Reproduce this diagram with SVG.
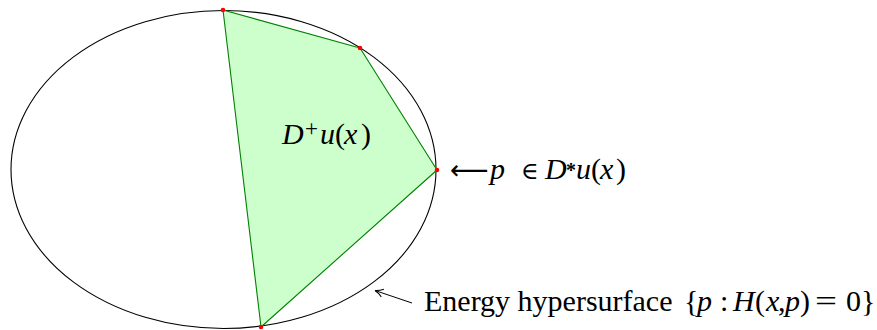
<svg xmlns="http://www.w3.org/2000/svg" width="877" height="330" viewBox="0 0 877 330">
<defs>
<style>
.t{font-family:"Liberation Serif","DejaVu Serif",serif;font-size:30px;fill:#000}
.i{font-style:italic}
.dot{fill:#ff0000}
</style>
<marker id="ah" viewBox="0 0 10 10" refX="9" refY="5" markerWidth="10" markerHeight="10" markerUnits="userSpaceOnUse" orient="auto">
<path d="M1,1 Q5,4 9,5 Q5,6 1,9" fill="none" stroke="#000" stroke-width="1"/>
</marker>
</defs>
<rect width="877" height="330" fill="#fff"/>
<g id="surface">
<ellipse cx="223.5" cy="169.5" rx="212.5" ry="159" fill="none" stroke="#000" stroke-width="1.1"/>
</g>
<g id="region">
<polygon points="223,10 360,48 437,170 261,327" fill="#ccffcc" stroke="#008000" stroke-width="1.1" stroke-linejoin="round"/>
<circle class="dot" cx="223" cy="10" r="2.3"/>
<circle class="dot" cx="360" cy="48" r="2.3"/>
<circle class="dot" cx="437" cy="170" r="2.3"/>
<circle class="dot" cx="261" cy="327" r="2.3"/>
<text class="t" y="144"><tspan class="i" x="282">D</tspan><tspan x="305" y="136" font-size="23">+</tspan><tspan class="i" x="320" y="144">u</tspan><tspan x="335">(</tspan><tspan class="i" x="344">x</tspan><tspan x="361">)</tspan></text>
</g>
<g id="point-label">
<text class="t" y="179"><tspan x="450" font-family="DejaVu Sans" font-size="27">⟵</tspan><tspan class="i" x="490">p</tspan><tspan x="521" font-family="DejaVu Serif" font-size="24">∈</tspan><tspan class="i" x="545">D</tspan><tspan x="566" y="177" font-size="20" font-weight="bold">*</tspan><tspan class="i" x="576" y="179">u</tspan><tspan x="591">(</tspan><tspan class="i" x="600">x</tspan><tspan x="616">)</tspan></text>
</g>
<g id="connectors">
<line x1="412" y1="303" x2="375" y2="290.5" stroke="#000" stroke-width="1" marker-end="url(#ah)"/>
</g>
<g id="surface-label">
<text class="t" y="311"><tspan x="424">Energy hypersurface</tspan><tspan x="684">{</tspan><tspan class="i" x="697">p</tspan><tspan x="720">:</tspan><tspan class="i" x="733">H</tspan><tspan x="755">(</tspan><tspan class="i" x="766">x</tspan><tspan x="778">,</tspan><tspan class="i" x="785">p</tspan><tspan x="800">)</tspan><tspan x="815" textLength="22" lengthAdjust="spacingAndGlyphs">=</tspan><tspan x="846">0</tspan><tspan x="861">}</tspan></text>
</g>
</svg>
